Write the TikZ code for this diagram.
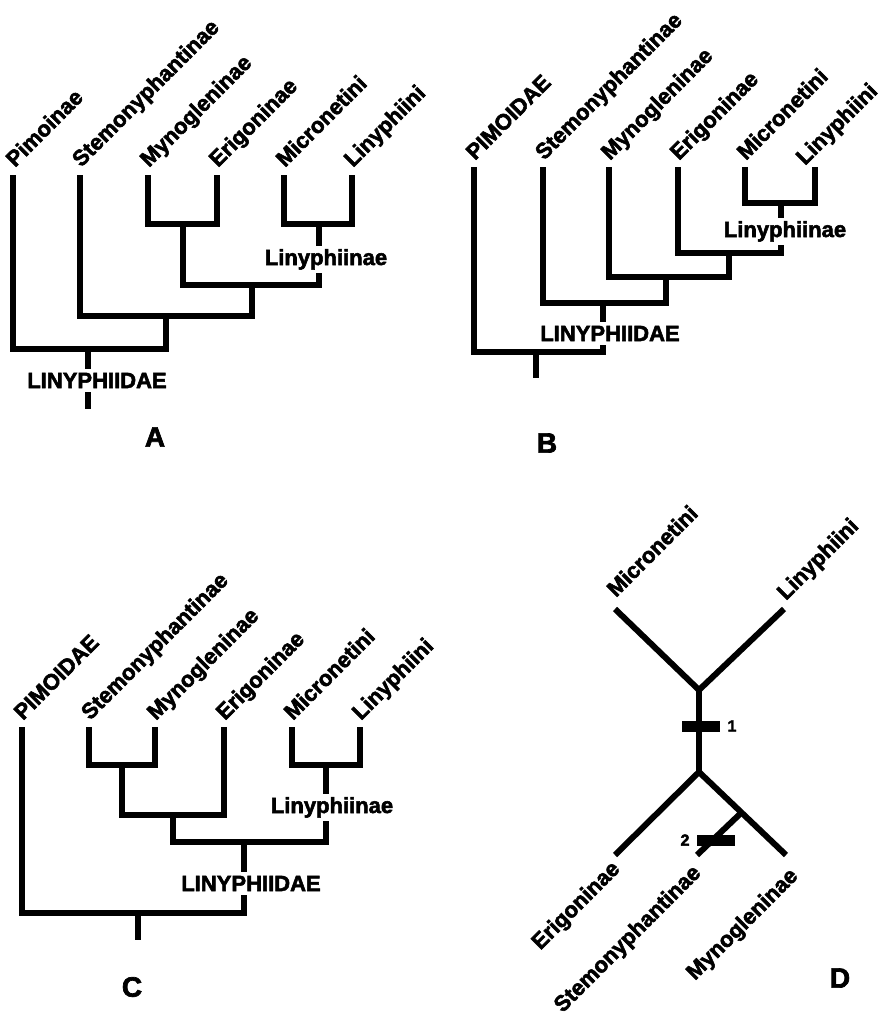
\documentclass[tikz,border=0pt]{standalone}
\usepackage{fontspec}
\usetikzlibrary{calc}
\newfontfamily\arialf{Liberation Sans}[BoldFeatures={FakeBold=2.5}]
\newcommand\mylab{\arialf\bfseries\fontsize{22pt}{24pt}\selectfont}
\newcommand\mybig{\arialf\bfseries\fontsize{28pt}{30pt}\selectfont}
\newcommand\mysmall{\arialf\bfseries\fontsize{16pt}{18pt}\selectfont}
\begin{document}
\begin{tikzpicture}[x=1pt,y=-1pt,
  br/.style={line width=6.5pt, line join=miter, line cap=butt},
  dbr/.style={line width=6pt, line join=miter, line cap=butt},
  tiplab/.style={font=\mylab, rotate=45, anchor=base west, inner sep=0pt},
  dlab/.style={font=\mylab, rotate=45, anchor=base east, inner sep=0pt},
  cladelab/.style={font=\mylab, anchor=base, fill=white, inner sep=3.5pt},
  panel/.style={font=\mybig, inner sep=0pt},
  barmark/.style={fill=black, minimum width=38pt, minimum height=11pt, inner sep=0pt},
  num/.style={font=\mysmall, inner sep=0pt}]
\useasboundingbox[fill=white] (0,0) rectangle (884,1026);

% ---------------- Panel A ----------------
\coordinate (a1) at (13,175);
\coordinate (a2) at (80,175);
\coordinate (a3) at (148,175);
\coordinate (a4) at (217,175);
\coordinate (a5) at (284,175);
\coordinate (a6) at (352,175);
\coordinate (aME) at (183,224);
\coordinate (aL) at (319,224);
\coordinate (aX) at (252,285);
\coordinate (aY) at (166,316);
\coordinate (aR) at (88,349);
\coordinate (aR0) at (88,409);
\draw[br] (a3) |- (aME) -| (a4);
\draw[br] (a5) |- (aL) -| (a6);
\draw[br] (aME) |- (aX) -| (aL);
\draw[br] (a2) |- (aY) -| (aX);
\draw[br] (a1) |- (aR) -| (aY);
\draw[br] (aR) -- (aR0);
\node[cladelab] (aLin) at (326,265) {Linyphiinae};
\node[cladelab] (aLID) at (97,388) {LINYPHIIDAE};
\node[tiplab] (ta1) at ($(a1)+(2,-7)$) {Pimoinae};
\node[tiplab] (ta2) at ($(a2)+(1,-7)$) {Stemonyphantinae};
\node[tiplab] (ta3) at ($(a3)+(1,-7)$) {Mynogleninae};
\node[tiplab] (ta4) at ($(a4)+(1,-7)$) {Erigoninae};
\node[tiplab] (ta5) at ($(a5)+(1,-7)$) {Micronetini};
\node[tiplab] (ta6) at ($(a6)+(1,-7)$) {Linyphiini};
\node[panel] (pA) at (155,437) {A};

% ---------------- Panel B ----------------
\coordinate (b1) at (474,167);
\coordinate (b2) at (543,167);
\coordinate (b3) at (609,167);
\coordinate (b4) at (678,167);
\coordinate (b5) at (745,167);
\coordinate (b6) at (815,167);
\coordinate (bL) at (781,203);
\coordinate (bE) at (729,253);
\coordinate (bM) at (666,277);
\coordinate (bS) at (603,303);
\coordinate (bR) at (536,352);
\coordinate (bR0) at (536,378);
\draw[br] (b5) |- (bL) -| (b6);
\draw[br] (b4) |- (bE) -| (bL);
\draw[br] (b3) |- (bM) -| (bE);
\draw[br] (b2) |- (bS) -| (bM);
\draw[br] (b1) |- (bR) -| (bS);
\draw[br] (bR) -- (bR0);
\node[cladelab] (bLin) at (785,237) {Linyphiinae};
\node[cladelab] (bLID) at (610,341) {LINYPHIIDAE};
\node[tiplab] (tb1) at ($(b1)+(1,-6)$) {PIMOIDAE};
\node[tiplab] (tb2) at ($(b2)+(1,-6)$) {Stemonyphantinae};
\node[tiplab] (tb3) at ($(b3)+(1,-6)$) {Mynogleninae};
\node[tiplab] (tb4) at ($(b4)+(1,-6)$) {Erigoninae};
\node[tiplab] (tb5) at ($(b5)+(1,-6)$) {Micronetini};
\node[tiplab] (tb6) at ($(b6)+(-10,-1)$) {Linyphiini};
\node[panel] (pB) at (547,443) {B};

% ---------------- Panel C ----------------
\coordinate (c1) at (22,727);
\coordinate (c2) at (89,727);
\coordinate (c3) at (155,727);
\coordinate (c4) at (224,727);
\coordinate (c5) at (292,727);
\coordinate (c6) at (360,727);
\coordinate (cSM) at (122,765);
\coordinate (cL) at (326,765);
\coordinate (cE) at (173,815);
\coordinate (cX) at (244,842);
\coordinate (cR) at (138,913);
\coordinate (cR0) at (138,940);
\draw[br] (c2) |- (cSM) -| (c3);
\draw[br] (c5) |- (cL) -| (c6);
\draw[br] (cSM) |- (cE) -| (c4);
\draw[br] (cE) |- (cX) -| (cL);
\draw[br] (c1) |- (cR) -| (cX);
\draw[br] (cR) -- (cR0);
\node[cladelab] (cLin) at (332,813) {Linyphiinae};
\node[cladelab] (cLID) at (251,891) {LINYPHIIDAE};
\node[tiplab] (tc1) at ($(c1)+(1,-6)$) {PIMOIDAE};
\node[tiplab] (tc2) at ($(c2)+(1,-6)$) {Stemonyphantinae};
\node[tiplab] (tc3) at ($(c3)+(1,-6)$) {Mynogleninae};
\node[tiplab] (tc4) at ($(c4)+(1,-6)$) {Erigoninae};
\node[tiplab] (tc5) at ($(c5)+(1,-6)$) {Micronetini};
\node[tiplab] (tc6) at ($(c6)+(1,-6)$) {Linyphiini};
\node[panel] (pC) at (132,987) {C};

% ---------------- Panel D ----------------
\coordinate (dm) at (615,609);
\coordinate (dl) at (784,609);
\coordinate (dt) at (699,690);
\coordinate (du) at (699,772);
\coordinate (de) at (615,855);
\coordinate (dy) at (786,855);
\coordinate (ds) at (741,813);
\coordinate (dst) at (697,855);
\draw[dbr] (dm) -- (dt) -- (dl);
\draw[dbr] (dt) -- (du);
\draw[dbr] (de) -- (du) -- (dy);
\draw[dbr] (ds) -- (dst);
\node[barmark] (k1) at (701,726.5) {};
\node[barmark] (k2) at (715.5,840.5) {};
\node[num] (n1) at (732,726) {1};
\node[num] (n2) at (685,840) {2};
\node[tiplab] (td1) at (616,598) {Micronetini};
\node[tiplab] (td2) at (786,601) {Linyphiini};
\node[dlab] (td3) at (621,870) {Erigoninae};
\node[dlab] (td4) at (702,874) {Stemonyphantinae};
\node[dlab] (td5) at (799,877) {Mynogleninae};
\node[panel] (pD) at (840,978) {D};
\end{tikzpicture}
\end{document}
